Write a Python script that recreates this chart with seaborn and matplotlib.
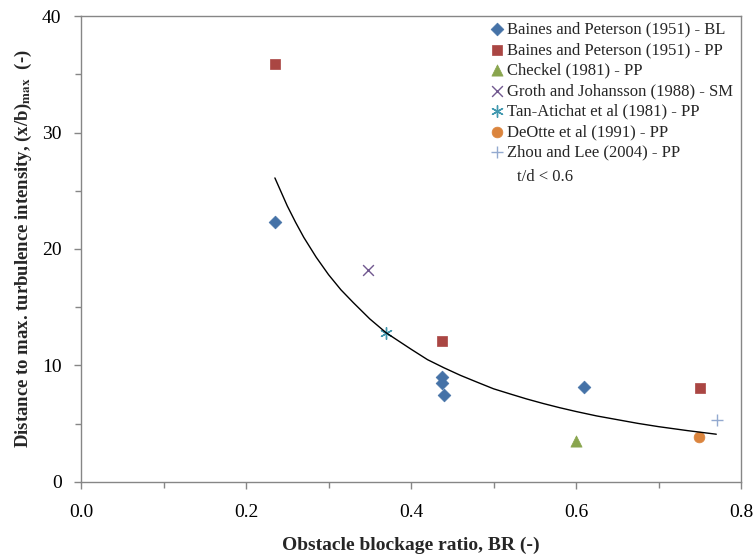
import numpy as np
import pandas as pd
import matplotlib
matplotlib.use('Agg')
import matplotlib.pyplot as plt
from matplotlib.ticker import MultipleLocator
import seaborn as sns

# data
bl_x = [0.235, 0.437, 0.437, 0.44, 0.61]
bl_y = [22.3, 9.0, 8.5, 7.45, 8.15]
pp_x = [0.235, 0.437, 0.75]
pp_y = [35.9, 12.1, 8.1]
checkel_x = [0.60]
checkel_y = [3.5]
groth_x = [0.348]
groth_y = [18.2]
tan_x = [0.37]
tan_y = [12.75]
deotte_x = [0.749]
deotte_y = [3.85]
zhou_x = [0.771]
zhou_y = [5.3]

# trend line
curve_x = [0.235, 0.24, 0.25, 0.26, 0.27, 0.285, 0.30, 0.315, 0.33, 0.35,
           0.37, 0.40, 0.42, 0.44, 0.46, 0.48, 0.50, 0.52, 0.54, 0.56,
           0.58, 0.60, 0.625, 0.65, 0.675, 0.70, 0.735, 0.77]
curve_y = [26.1, 25.3, 23.7, 22.3, 21.0, 19.3, 17.8, 16.5, 15.4, 14.0,
           12.8, 11.4, 10.5, 9.8, 9.15, 8.57, 8.0, 7.56, 7.13, 6.74,
           6.38, 6.05, 5.67, 5.35, 5.03, 4.75, 4.41, 4.1]

series = [
    ('Baines and Peterson (1951) - BL', bl_x, bl_y, 'D', '#4572A7', 42),
    ('Baines and Peterson (1951) - PP', pp_x, pp_y, 's', '#AA4643', 55),
    ('Checkel (1981) - PP', checkel_x, checkel_y, '^', '#89A54E', 65),
    ('Groth and Johansson (1988) - SM', groth_x, groth_y, 'x', '#71588F', 60),
    ('Tan-Atichat et al (1981) - PP', tan_x, tan_y, (6, 2, 0), '#4198AF', 70),
    ('DeOtte et al (1991) - PP', deotte_x, deotte_y, 'o', '#DB843D', 60),
    ('Zhou and Lee (2004) - PP', zhou_x, zhou_y, '+', '#93A9CF', 70),
]

sns.set_style('white')
plt.rcParams['font.family'] = ['Liberation Serif', 'DejaVu Serif']
plt.rcParams['mathtext.fontset'] = 'stix'

fig, ax = plt.subplots(figsize=(7.55, 5.54), dpi=100)
fig.subplots_adjust(left=0.1073, right=0.9815, top=0.9711, bottom=0.130)

sns.lineplot(x=curve_x, y=curve_y, color='black', lw=1, sort=False, ax=ax)

for name, xs, ys, mk, col, sz in series:
    df = pd.DataFrame({'x': xs, 'y': ys})
    if mk in ('x', '+') or isinstance(mk, tuple):
        sns.scatterplot(data=df, x='x', y='y', marker=mk, color=col, s=sz,
                        linewidth=1, label=name, ax=ax)
    else:
        sns.scatterplot(data=df, x='x', y='y', marker=mk, color=col, s=sz,
                        edgecolor=col, linewidth=0.5, label=name, ax=ax)

ax.set_xlim(0, 0.8)
ax.set_ylim(0, 40)
ax.xaxis.set_major_locator(MultipleLocator(0.2))
ax.xaxis.set_minor_locator(MultipleLocator(0.1))
ax.yaxis.set_major_locator(MultipleLocator(10))
ax.yaxis.set_minor_locator(MultipleLocator(5))
ax.xaxis.set_major_formatter(matplotlib.ticker.FormatStrFormatter('%.1f'))

for sp in ax.spines.values():
    sp.set_color('#868686')
    sp.set_linewidth(1)
ax.tick_params(which='both', direction='out', color='#868686', labelsize=14,
               labelcolor='black')
ax.tick_params(which='major', length=5, width=1)
ax.tick_params(which='minor', length=4, width=1)
ax.tick_params(axis='x', which='both', bottom=True, pad=11)
ax.tick_params(axis='y', which='both', left=True, pad=9)

ax.set_xlabel('Obstacle blockage ratio, BR (-)', fontsize=14, fontweight='bold', labelpad=11)
ax.set_ylabel(r'Distance to max. turbulence intensity, (x/b)$_{\mathbf{max}}$  (-)',
              fontsize=13.5, fontweight='bold', labelpad=6)

leg = ax.legend(loc='upper left', bbox_to_anchor=(0.617, 0.988), frameon=False,
                fontsize=12, handletextpad=0.1, handlelength=1.0,
                labelspacing=0.27, borderpad=0, borderaxespad=0)

ax.text(0.661, 0.655, 't/d < 0.6', transform=ax.transAxes, fontsize=12,
        va='center', ha='left')

fig.savefig('out.png', dpi=100)
